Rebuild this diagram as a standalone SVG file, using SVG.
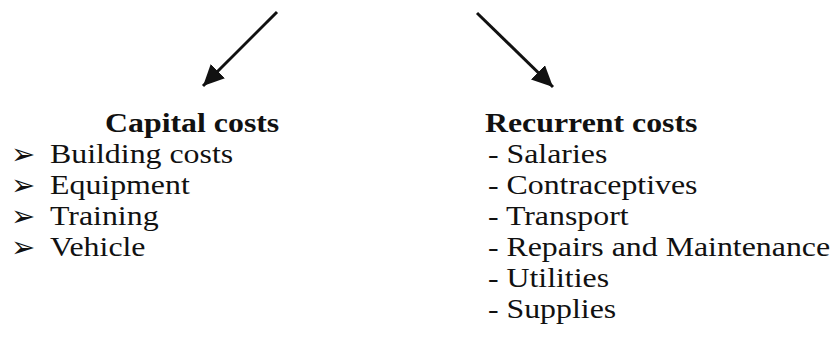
<svg xmlns="http://www.w3.org/2000/svg" width="835" height="362" viewBox="0 0 835 362">
<style>
.t{font-family:"Liberation Serif","Times New Roman",serif;font-size:27px;fill:#111}
.b{font-weight:bold}
.bul{font-family:"DejaVu Sans",sans-serif;font-size:29px;fill:#111}
.ln{stroke:#111;stroke-width:3;fill:none}
</style>
<defs>
<marker id="ah" markerUnits="userSpaceOnUse" markerWidth="26" markerHeight="22" refX="21" refY="10" orient="auto">
<path d="M0,0 L21,10 L0,20 Z" fill="#111"/>
</marker>
</defs>
<rect width="835" height="362" fill="#fff"/>
<g id="connectors">
<line class="ln" x1="277" y1="12" x2="203" y2="86" marker-end="url(#ah)"/>
<line class="ln" x1="477" y1="13" x2="553" y2="87" marker-end="url(#ah)"/>
</g>
<g id="capital">
<g transform="scale(1.18 1)">
<text class="t b" x="89" y="132">Capital costs</text>
<text class="t" x="42.4" y="163">Building costs</text>
<text class="t" x="42.4" y="194">Equipment</text>
<text class="t" x="42.4" y="225">Training</text>
<text class="t" x="42.4" y="256">Vehicle</text>
</g>
<text class="bul" x="11" y="164">➢</text>
<text class="bul" x="11" y="195">➢</text>
<text class="bul" x="11" y="226">➢</text>
<text class="bul" x="11" y="257">➢</text>
</g>
<g id="recurrent">
<g transform="scale(1.18 1)">
<text class="t b" x="411" y="132">Recurrent costs</text>
<text class="t" x="413.5" y="163">- Salaries</text>
<text class="t" x="413.5" y="194">- Contraceptives</text>
<text class="t" x="413.5" y="225">- Transport</text>
<text class="t" x="413.5" y="256">- Repairs and Maintenance</text>
<text class="t" x="413.5" y="287">- Utilities</text>
<text class="t" x="413.5" y="318">- Supplies</text>
</g>
</g>
</svg>
